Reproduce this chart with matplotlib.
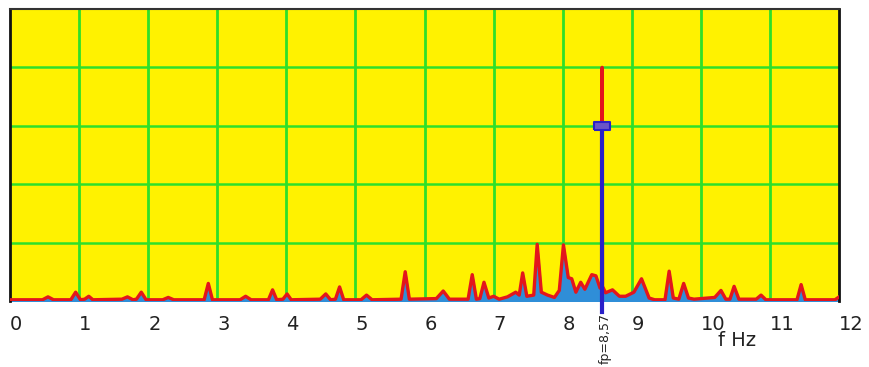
import matplotlib
matplotlib.use("Agg")
import matplotlib.pyplot as plt

# spectrum (frequency in Hz, amplitude)
freq = [0.00, 0.47, 0.55, 0.63, 0.88, 0.95, 1.02, 1.08, 1.14, 1.20,
        1.62, 1.70, 1.78, 1.83, 1.90, 1.97, 2.21, 2.29, 2.37, 2.81,
        2.87, 2.93, 3.33, 3.41, 3.49, 3.74, 3.80, 3.86, 3.95, 4.01,
        4.07, 4.49, 4.57, 4.64, 4.71, 4.77, 4.83, 5.08, 5.16, 5.24,
        5.66, 5.72, 5.78, 6.17, 6.27, 6.36, 6.63, 6.69, 6.75, 6.80,
        6.86, 6.93, 7.00, 7.08, 7.20, 7.32, 7.37, 7.42, 7.48, 7.58,
        7.63, 7.69, 7.78, 7.88, 7.95, 8.01, 8.08, 8.13, 8.19, 8.26,
        8.32, 8.42, 8.48, 8.54, 8.565, 8.57, 8.575, 8.62, 8.72, 8.82,
        8.91, 9.03, 9.14, 9.25, 9.33, 9.48, 9.54, 9.60, 9.68, 9.75,
        9.82, 9.90, 10.20, 10.29, 10.36, 10.42, 10.48, 10.55, 10.80, 10.87,
        10.94, 11.39, 11.45, 11.51, 11.94, 12.00]
amp = [0.02, 0.02, 0.07, 0.02, 0.02, 0.15, 0.02, 0.03, 0.08, 0.02,
       0.03, 0.07, 0.02, 0.03, 0.15, 0.02, 0.02, 0.06, 0.02, 0.02,
       0.30, 0.02, 0.02, 0.08, 0.02, 0.02, 0.19, 0.02, 0.03, 0.12,
       0.02, 0.03, 0.12, 0.02, 0.03, 0.24, 0.02, 0.02, 0.10, 0.02,
       0.03, 0.50, 0.03, 0.04, 0.17, 0.03, 0.03, 0.45, 0.03, 0.04,
       0.32, 0.05, 0.08, 0.03, 0.07, 0.15, 0.10, 0.48, 0.08, 0.10,
       0.97, 0.15, 0.10, 0.06, 0.18, 0.96, 0.40, 0.38, 0.15, 0.32,
       0.20, 0.45, 0.43, 0.22, 0.25, 4.00, 0.25, 0.14, 0.19, 0.08,
       0.08, 0.15, 0.38, 0.05, 0.02, 0.02, 0.51, 0.05, 0.03, 0.30,
       0.05, 0.03, 0.06, 0.18, 0.03, 0.03, 0.25, 0.03, 0.03, 0.10,
       0.02, 0.02, 0.28, 0.02, 0.02, 0.07]

fp = 8.57
marker_level = 3.0
xticks = list(range(0, 13))
xlabels = [str(t) for t in xticks]

fig = plt.figure(figsize=(8.7, 3.67), dpi=100)
ax = fig.add_axes([0.0115, 0.18, 0.953, 0.7955])
ax.set_facecolor("#FFF200")

ax.set_xlim(0, 12)
ax.set_ylim(0, 5)

for x in range(1, 12):
    ax.axvline(x, color="#2EE02A", lw=2, zorder=1)
for y in range(1, 5):
    ax.axhline(y, color="#2EE02A", lw=1.8, zorder=1)

ax.fill_between(freq, 0, amp, color="#2F8ED8", zorder=2)
ax.plot(freq, amp, color="#E3161C", lw=2.4, zorder=3, solid_joinstyle="round")

# peak marker line
ax.plot([fp, fp], [-0.19, marker_level], color="#2A20C8", lw=3,
        zorder=4, clip_on=False)
rect = [(-1, -0.5), (1, -0.5), (1, 0.5), (-1, 0.5), (-1, -0.5)]
ax.plot([fp], [marker_level], marker=rect, markersize=11.5,
        markerfacecolor="#6A55C8", markeredgecolor="#2A20C8",
        markeredgewidth=1.5, zorder=5)

ax.set_xticks(xticks)
ax.set_xticklabels(xlabels, ha="left", fontsize=14, color="#222222")
ax.tick_params(axis="x", length=0, pad=10)
ax.set_yticks([])

for side in ["left", "right"]:
    ax.spines[side].set_color("#111111")
    ax.spines[side].set_linewidth(2)
ax.spines["top"].set_color("#333333")
ax.spines["top"].set_linewidth(1.5)
ax.spines["bottom"].set_visible(False)

ax.text(fp + 0.04, -0.2, "fp=8,57", rotation=90, ha="center", va="top",
        fontsize=9, color="#222222")
ax.text(10.52, -0.68, "f Hz", ha="center", va="center", fontsize=14,
        color="#222222")

fig.savefig("out.png", dpi=100)
